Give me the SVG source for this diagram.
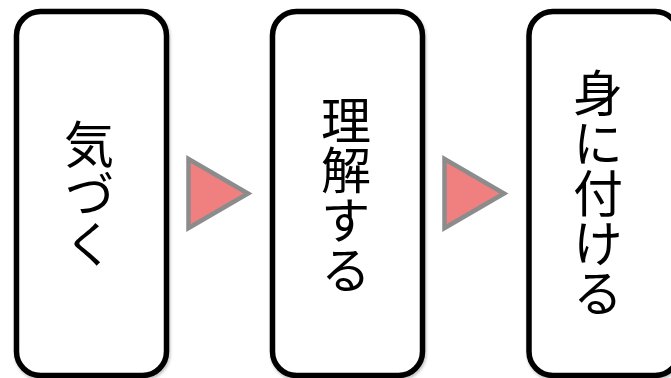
<svg xmlns="http://www.w3.org/2000/svg" width="671" height="378" viewBox="0 0 671 378">
<defs>
<filter id="sh" x="-10%" y="-10%" width="120%" height="120%">
<feDropShadow dx="1" dy="2" stdDeviation="1.5" flood-color="#000" flood-opacity="0.25"/>
</filter>
</defs>
<style>
.box{fill:#fff;stroke:#000;stroke-width:5.5;filter:url(#sh)}
.lbl{font-family:"Noto Sans CJK JP","Noto Sans",sans-serif;font-size:50px;fill:#000;writing-mode:vertical-rl;text-anchor:middle}
.arr{fill:#F08080;stroke:#8C8C8C;stroke-width:4.5;stroke-linejoin:miter}
</style>
<rect width="671" height="378" fill="#fff"/>
<g id="node1">
<rect class="box" x="16.5" y="11.5" width="150" height="364" rx="24"/>
<text class="lbl" x="89" y="194">気づく</text>
</g>
<g id="node2">
<rect class="box" x="272.5" y="11.5" width="150" height="364" rx="24"/>
<text class="lbl" x="346" y="195">理解する</text>
</g>
<g id="node3">
<rect class="box" x="529" y="11.5" width="150" height="364" rx="24"/>
<text class="lbl" x="598" y="193">身に付ける</text>
</g>
<g id="connectors">
<polygon class="arr" points="188.5,159 248,193.5 188.5,228"/>
<polygon class="arr" points="444.5,159 504,193.5 444.5,228"/>
</g>
</svg>
